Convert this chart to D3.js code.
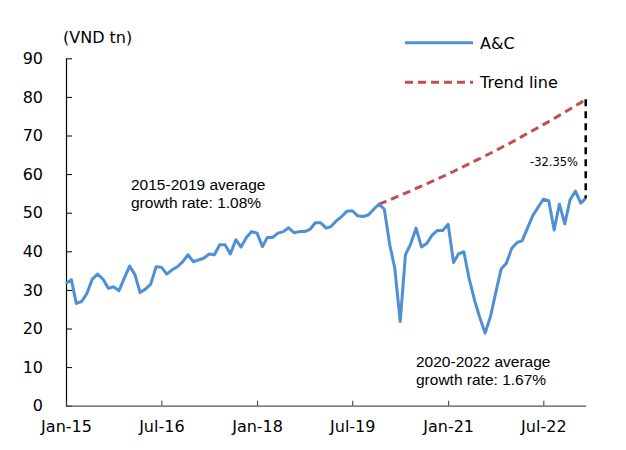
<!DOCTYPE html>
<html>
<head>
<meta charset="utf-8">
<script src="https://cdn.jsdelivr.net/npm/d3@7"></script>
<style>
  html, body { margin: 0; padding: 0; background: #fff; }
  svg { display: block; }
</style>
</head>
<body>
<svg id="chart" width="626" height="450"></svg>
<script>
// Monthly A&C revenue, Jan-2015 onwards (VND tn)
const startMonth = "2015-01";
const acValues = [
  31.7, 32.6, 26.5, 27.0, 29.1, 32.8, 34.1, 32.8, 30.4, 30.8, 29.8, 33.0,
  36.2, 33.9, 29.3, 30.2, 31.5, 36.0, 35.9, 34.1, 35.2, 36.0, 37.3, 39.1,
  37.3, 37.8, 38.2, 39.3, 39.1, 41.7, 41.7, 39.3, 43.0, 41.1, 43.6, 45.1,
  44.7, 41.2, 43.6, 43.6, 44.7, 45.1, 46.1, 44.8, 45.1, 45.1, 45.7, 47.4,
  47.4, 46.0, 46.4, 47.9, 49.0, 50.4, 50.5, 49.2, 49.0, 49.4, 50.9, 52.2,
  50.9, 41.7, 35.6, 21.8, 39.1, 42.0, 46.0, 41.1, 42.1, 44.2, 45.4, 45.4,
  47.0, 37.1, 39.3, 39.9, 33.0, 27.4, 22.9, 18.8, 23.1, 29.3, 35.4, 36.9,
  40.8, 42.3, 42.7, 46.0, 49.2, 51.4, 53.5, 53.1, 45.5, 52.2, 47.1, 53.3,
  55.6, 52.5, 53.7
];

// Trend line from Dec-2019 onward (1.08% monthly growth path)
const trendStartMonth = "2019-12";
const trendValues = [
  52.20, 52.76, 53.33, 53.91, 54.49, 55.08, 55.68, 56.28, 56.88, 57.50,
  58.12, 58.75, 59.38, 60.02, 60.67, 61.33, 61.99, 62.66, 63.34, 64.02,
  64.71, 65.41, 66.12, 66.83, 67.55, 68.28, 69.02, 69.76, 70.52, 71.28,
  72.05, 72.83, 73.61, 74.41, 75.21, 76.03, 76.85, 77.68, 78.52, 79.36
];

const gapLabel = "-32.35%";
const xTickMonths = ["2015-01", "2016-07", "2018-01", "2019-07", "2021-01", "2022-07"];
const yTickValues = [0, 10, 20, 30, 40, 50, 60, 70, 80, 90];
const unitLabel = "(VND tn)";
const seriesNames = ["A&C", "Trend line"];
const notePre = ["2015-2019 average", "growth rate: 1.08%"];
const notePost = ["2020-2022 average", "growth rate: 1.67%"];

const parseMonth = d3.utcParse("%Y-%m");
const fmtTick = d3.utcFormat("%b-%y");
const addMonths = (d, n) => d3.utcMonth.offset(d, n);

const acData = acValues.map((v, i) => ({ date: addMonths(parseMonth(startMonth), i), value: v }));
const trendData = trendValues.map((v, i) => ({ date: addMonths(parseMonth(trendStartMonth), i), value: v }));

const svg = d3.select("#chart");
const tickFont = "'DejaVu Sans', Verdana, sans-serif";
const noteFont = "'Liberation Sans', Arial, sans-serif";

const x = d3.scaleUtc()
  .domain([acData[0].date, acData[acData.length - 1].date])
  .range([66, 585.7]);
const y = d3.scaleLinear().domain([0, 90]).range([405.7, 58.3]);

// y axis, ticks pointing inward
const yAxis = svg.append("g")
  .attr("transform", `translate(${x.range()[0]},0)`)
  .call(d3.axisLeft(y).tickValues(yTickValues).tickSizeInner(-6).tickSizeOuter(0).tickPadding(23));
yAxis.select(".domain").attr("stroke", "#000").attr("stroke-width", 1.2);
yAxis.selectAll(".tick line").attr("stroke", "#000");
yAxis.selectAll(".tick text")
  .attr("font-family", tickFont).attr("font-size", 16).attr("fill", "#000");

// x axis, ticks pointing inward
const xAxis = svg.append("g")
  .attr("transform", `translate(0,${y(0)})`)
  .call(d3.axisBottom(x).tickValues(xTickMonths.map(parseMonth)).tickFormat(fmtTick)
    .tickSizeInner(-5).tickSizeOuter(0).tickPadding(15));
xAxis.select(".domain").attr("stroke", "#555").attr("stroke-width", 1.2);
xAxis.selectAll(".tick line").attr("stroke", "#333");
xAxis.selectAll(".tick text")
  .attr("font-family", tickFont).attr("font-size", 16).attr("fill", "#000");

svg.append("text")
  .attr("x", 63).attr("y", 43)
  .attr("font-family", tickFont).attr("font-size", 16)
  .text(unitLabel);

const line = d3.line().x(d => x(d.date)).y(d => y(d.value));

// trend path
svg.append("path")
  .datum(trendData)
  .attr("d", line)
  .attr("fill", "none")
  .attr("stroke", "#c0504d")
  .attr("stroke-width", 3)
  .attr("stroke-dasharray", "8,5");

// A&C series
svg.append("path")
  .datum(acData)
  .attr("d", line)
  .attr("fill", "none")
  .attr("stroke", "#4f8fd3")
  .attr("stroke-width", 3)
  .attr("stroke-linejoin", "round");

// gap between trend and latest value
const lastAc = acData[acData.length - 1];
const lastTrend = trendData[trendData.length - 1];
svg.append("line")
  .attr("x1", x(lastAc.date)).attr("x2", x(lastAc.date))
  .attr("y1", y(lastTrend.value)).attr("y2", y(lastAc.value))
  .attr("stroke", "#000").attr("stroke-width", 2.5)
  .attr("stroke-dasharray", "7,5");
svg.append("text")
  .attr("x", 578).attr("y", 166)
  .attr("text-anchor", "end")
  .attr("font-family", tickFont).attr("font-size", 11.5)
  .text(gapLabel);

// legend
const legendRows = [
  { name: seriesNames[0], color: "#4f8fd3", dash: null, y: 42.7 },
  { name: seriesNames[1], color: "#c0504d", dash: "8,5", y: 82.3 }
];
const lg = svg.append("g");
legendRows.forEach(r => {
  lg.append("line")
    .attr("x1", 405).attr("x2", 473).attr("y1", r.y).attr("y2", r.y)
    .attr("stroke", r.color).attr("stroke-width", 3)
    .attr("stroke-dasharray", r.dash);
  lg.append("text")
    .attr("x", 480).attr("y", r.y + 6)
    .attr("font-family", tickFont).attr("font-size", 16)
    .text(r.name);
});

// growth-rate notes
function note(lines, x0, y0) {
  const t = svg.append("text")
    .attr("font-family", noteFont).attr("font-size", 15.5).attr("fill", "#000");
  lines.forEach((s, i) => {
    t.append("tspan").attr("x", x0).attr("y", y0 + i * 18).text(s);
  });
}
note(notePre, 131, 189.5);
note(notePost, 416, 366.5);
</script>
</body>
</html>
